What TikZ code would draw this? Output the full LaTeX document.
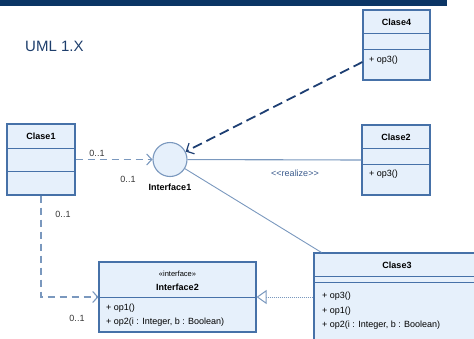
\documentclass[tikz,border=0pt]{standalone}
\usepackage{fontspec}
\setmainfont{Liberation Sans}
\usetikzlibrary{arrows.meta,calc}
\definecolor{navy}{HTML}{0B3565}
\definecolor{boxfill}{HTML}{E6F0FB}
\definecolor{boxline}{HTML}{4671A8}
\definecolor{linkc}{HTML}{7A98BE}
\definecolor{darkdash}{HTML}{1E3F73}
\definecolor{labc}{HTML}{3A5A8C}
\definecolor{titlec}{HTML}{1E3E6C}
\begin{document}
\begin{tikzpicture}[x=1pt,y=-1pt,
  font=\fontsize{9}{10}\selectfont,
  box/.style={draw=boxline,fill=boxfill,line width=1.1pt,inner sep=0pt,rectangle},
  divline/.style={draw=boxline,line width=1.1pt},
  cname/.style={font=\fontsize{9}{10}\selectfont\bfseries,inner sep=0pt},
  opline/.style={anchor=west,inner sep=0pt},
  mult/.style={inner sep=0pt,text=black!80},
  dep/.style={draw=linkc,line width=1.1pt,dash pattern=on 7pt off 5pt},
  openhead/.style={-{Straight Barb[length=5pt,width=11pt,line width=1.1pt]}},
  darkdep/.style={draw=darkdash,line width=1.8pt,dash pattern=on 10pt off 5pt,
    -{Straight Barb[length=6pt,width=12pt,line width=1.2pt]}},
  assoc/.style={draw=linkc,line width=1.1pt},
  realz/.style={draw=linkc,line width=1pt,dash pattern=on 1.2pt off 0.8pt,
    -{Triangle[open,fill=white,length=10pt,width=14pt,line width=1pt]}}
]
\useasboundingbox (0,0) rectangle (474,338);
\fill[navy] (0,0) rectangle (447,6);
\node[text=titlec,font=\fontsize{15}{17}\selectfont,anchor=west,inner sep=0pt] (title) at (25,46) {UML 1.X};

% Clase1
\node[box,minimum width=68pt,minimum height=71pt] (c1) at (41,159.5) {};
\draw[divline] ([yshift=-25pt]c1.north west) -- ([yshift=-25pt]c1.north east);
\draw[divline] ([yshift=-48pt]c1.north west) -- ([yshift=-48pt]c1.north east);
\node[cname] (c1n) at (41,136) {Clase1};

% Clase4
\node[box,minimum width=67pt,minimum height=70pt] (c4) at (396.5,45) {};
\draw[divline] ([yshift=-24pt]c4.north west) -- ([yshift=-24pt]c4.north east);
\draw[divline] ([yshift=-40pt]c4.north west) -- ([yshift=-40pt]c4.north east);
\node[cname] (c4n) at (396.5,22) {Clase4};
\node[opline] (c4o) at (369,60) {+ op3()};

% Clase2
\node[box,minimum width=68pt,minimum height=70pt] (c2) at (396,160) {};
\draw[divline] ([yshift=-24pt]c2.north west) -- ([yshift=-24pt]c2.north east);
\draw[divline] ([yshift=-40pt]c2.north west) -- ([yshift=-40pt]c2.north east);
\node[cname] (c2n) at (396,137) {Clase2};
\node[opline] (c2o) at (369,174) {+ op3()};

% Interface1
\node[circle,draw=linkc,fill=boxfill,line width=1.1pt,minimum size=34pt,inner sep=0pt] (i1) at (170,159.5) {};
\node[cname] (i1n) at (170,187) {Interface1};

% Interface2
\node[box,minimum width=157pt,minimum height=70pt] (i2) at (177.5,297) {};
\draw[divline] ([yshift=-36pt]i2.north west) -- ([yshift=-36pt]i2.north east);
\node[inner sep=0pt,font=\fontsize{7.5}{8}\selectfont] (i2s) at (177.5,274) {«interface»};
\node[cname] (i2n) at (177.5,287) {Interface2};
\node[opline] (i2o1) at (106,308) {+ op1()};
\node[opline] (i2o2) at (106,322) {+ op2(i : Integer, b : Boolean)};

% Clase3
\node[box,minimum width=166pt,minimum height=92pt] (c3) at (397,299) {};
\draw[divline] ([yshift=-24pt]c3.north west) -- ([yshift=-24pt]c3.north east);
\draw[divline] ([yshift=-30pt]c3.north west) -- ([yshift=-30pt]c3.north east);
\node[cname] (c3n) at (397,265) {Clase3};
\node[opline] (c3o1) at (322,296) {+ op3()};
\node[opline] (c3o2) at (322,311) {+ op1()};
\node[opline] (c3o3) at (322,325) {+ op2(i : Integer, b : Boolean)};

% connectors
\coordinate (c4a) at ([yshift=-17pt]c4.west);
\coordinate (c3a) at ([xshift=8pt]c3.north west);
\draw[dep,openhead] (c1.east |- i1) -- (i1);
\draw[dep,openhead] (c1.south) |- (i2.west);
\draw[darkdep] (c4a) -- (i1);
\draw[assoc] (c2.west) -- (i1);
\draw[assoc,line width=0.9pt] (i1) -- (c3a);
\draw[realz] (c3.west |- i2.east) -- (i2.east);

% labels
\node[text=labc,inner sep=0pt] (rl) at (295,173) {{<}{<}realize{>}{>}};
\node[mult] (m1) at (97,153) {0..1};
\node[mult] (m2) at (128,179) {0..1};
\node[mult] (m3) at (63,214) {0..1};
\node[mult] (m4) at (77,318) {0..1};
\end{tikzpicture}
\end{document}
